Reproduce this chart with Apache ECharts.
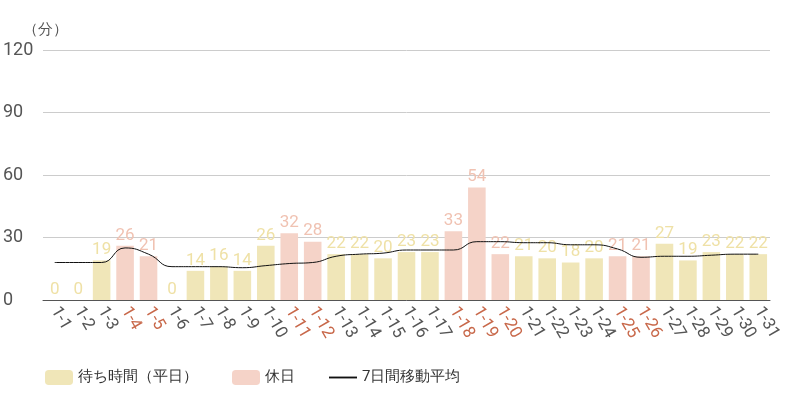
<!DOCTYPE html><html><head><meta charset="utf-8"><script src="https://cdn.jsdelivr.net/npm/echarts@6/dist/echarts.min.js"></script></head><body style="margin:0"><div id="c" style="width:800px;height:400px"></div><script>
const categories=['1-1','1-2','1-3','1-4','1-5','1-6','1-7','1-8','1-9','1-10','1-11','1-12','1-13','1-14','1-15','1-16','1-17','1-18','1-19','1-20','1-21','1-22','1-23','1-24','1-25','1-26','1-27','1-28','1-29','1-30','1-31'];
const values=[0,0,19,26,21,0,14,16,14,26,32,28,22,22,20,23,23,33,54,22,21,20,18,20,21,21,27,19,23,22,22];
const holidays=['1-4','1-5','1-11','1-12','1-18','1-19','1-20','1-25','1-26'];
const avg7=[18,18,18,25,22,16,16,16,15.5,16.5,17.5,18,21,22,22.5,24,24,24,28,28,27.5,27.5,26.5,26.5,24.5,20.5,21,21,21.5,22,22];
const yTicks=[0,30,60,90,120];
const weekday=categories.map((c,i)=>holidays.includes(c)?'-':values[i]);
const holiday=categories.map((c,i)=>holidays.includes(c)?values[i]:'-');
const lbl=(col)=>({show:true,position:'top',color:col,fontSize:17,fontFamily:'Roboto',distance:2});
const ch=echarts.init(document.getElementById('c'));
ch.setOption({
animation:false,
textStyle:{fontFamily:'Roboto'},
grid:{left:42,right:30,top:50,bottom:100},
legend:{left:40,bottom:10,itemWidth:28,itemHeight:15,itemGap:34,textStyle:{fontSize:15,color:'#333'},
 data:[{name:'待ち時間（平日）'},{name:'休日'},{name:'7日間移動平均',icon:'path://M0,0H30V2H0Z',itemStyle:{color:'#111'}}]},
xAxis:{type:'category',data:categories,axisTick:{show:false},axisLine:{lineStyle:{color:'#555'}},
 axisLabel:{rotate:-60,interval:0,fontSize:17,margin:8,color:(v)=>holidays.includes(v)?'#c8684a':'#555'}},
yAxis:{type:'value',min:0,max:120,interval:30,name:'（分）',nameLocation:'end',nameGap:12,nameTextStyle:{color:'#555',fontSize:15,align:'left',padding:[0,0,0,-20]},
 axisLabel:{fontSize:18,color:'#555',align:'left',margin:40},splitLine:{lineStyle:{color:'#ccc'}}},
series:[
{name:'待ち時間（平日）',type:'bar',data:weekday,barWidth:'75%',barGap:'-100%',itemStyle:{color:'#f0e6b8'},label:lbl('#efe1a6')},
{name:'休日',type:'bar',data:holiday,barWidth:'75%',itemStyle:{color:'#f5d3c8'},label:lbl('#f0c2b2')},
{name:'7日間移動平均',type:'line',data:avg7,smooth:true,symbol:'none',lineStyle:{color:'#111',width:1}}
]});
</script></body></html>
